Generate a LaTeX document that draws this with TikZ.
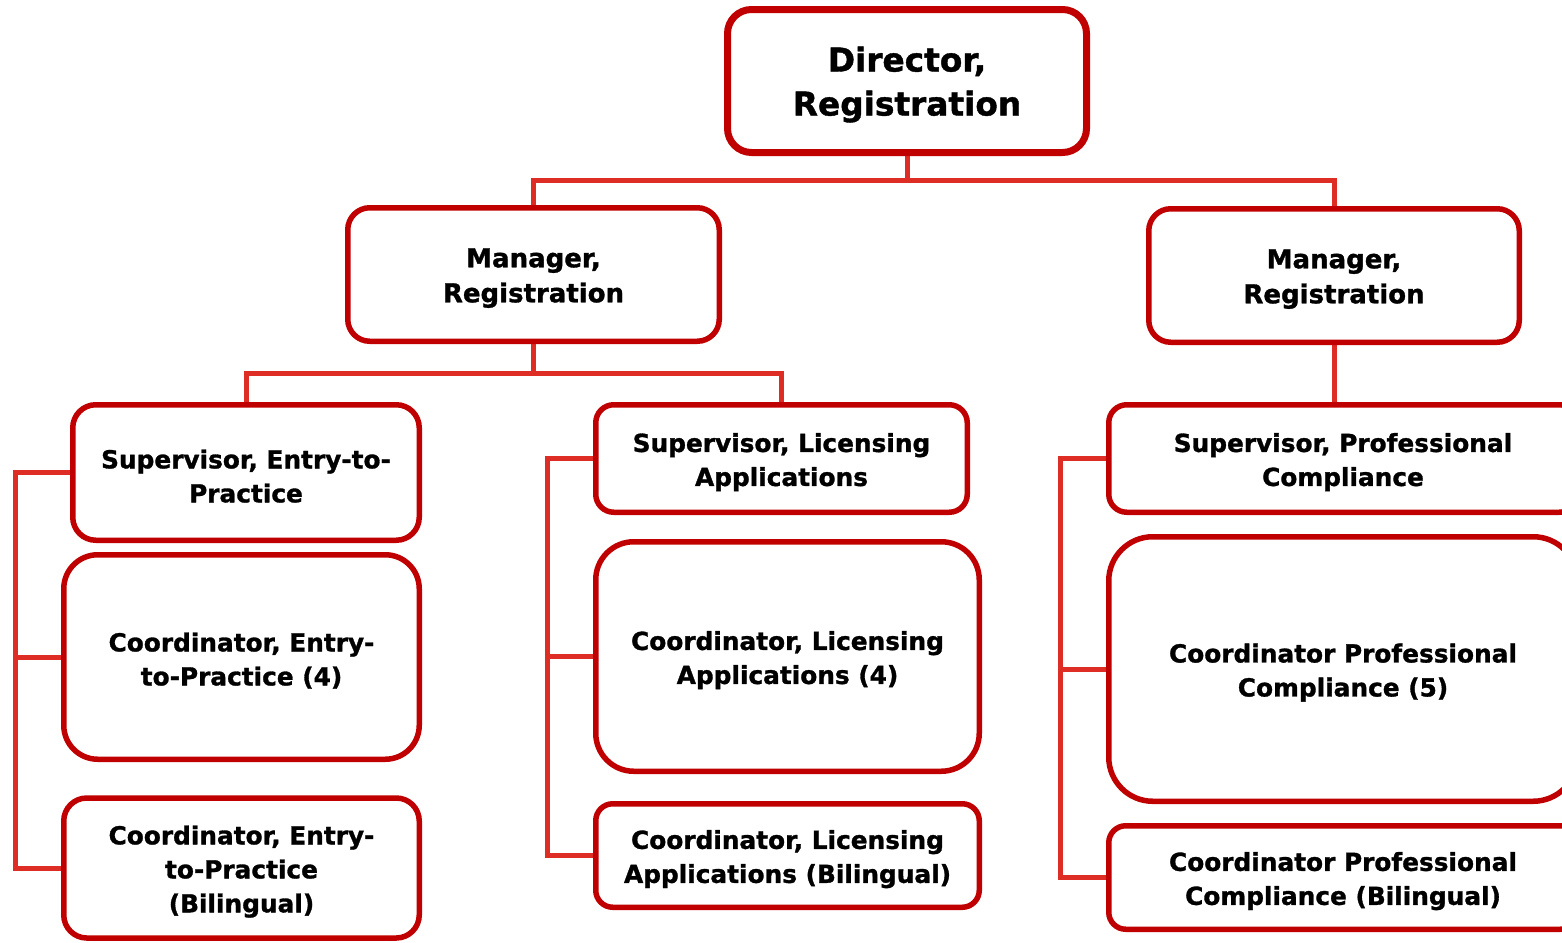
\documentclass[tikz,border=0pt]{standalone}
\usepackage{fontspec}
\setmainfont{DejaVu Sans}[BoldFeatures={FakeBold=1.2}]
\usetikzlibrary{backgrounds}
\definecolor{boxred}{RGB}{192,0,0}
\definecolor{linered}{RGB}{222,45,36}
\tikzset{
  orgbox/.style={draw=boxred, line width=2.75pt, fill=white, inner sep=0pt, rounded corners=#1},
  lbl/.style={align=center, inner sep=0pt, text=black, yshift=-1.8pt},
  big/.style={lbl, font=\fontsize{16.4pt}{22pt}\selectfont\bfseries},
  mid/.style={lbl, font=\fontsize{13pt}{17.5pt}\selectfont\bfseries},
  small/.style={lbl, font=\fontsize{12.4pt}{17pt}\selectfont\bfseries},
  conn/.style={draw=linered, line width=2.5pt},
}
\begin{document}
\begin{tikzpicture}[x=0.5pt,y=-0.5pt]
\path[use as bounding box, clip] (0,0) rectangle (1562,942);
% boxes
\node[orgbox=12pt, line width=3.5pt, minimum width=179.5pt, minimum height=71.5pt] (dir) at (907,81) {};
\node[orgbox=11pt, minimum width=185.75pt, minimum height=66.75pt] (mgrL) at (533.5,274.5) {};
\node[orgbox=11pt, minimum width=185.25pt, minimum height=66.75pt] (mgrR) at (1334,275.5) {};
\node[orgbox=11.5pt, minimum width=173.25pt, minimum height=67.75pt] (supE) at (246,472.5) {};
\node[orgbox=17pt, minimum width=177.75pt, minimum height=102.25pt] (coE) at (241.5,657) {};
\node[orgbox=11.5pt, minimum width=177.75pt, minimum height=70pt] (coEb) at (241.5,868) {};
\node[orgbox=9pt, minimum width=185.75pt, minimum height=53.75pt] (supL) at (781.5,458.5) {};
\node[orgbox=19pt, minimum width=191.75pt, minimum height=114.75pt] (coL) at (787.5,656.5) {};
\node[orgbox=8.5pt, minimum width=191.75pt, minimum height=51.75pt] (coLb) at (787.5,855.5) {};
\node[orgbox=9pt, minimum width=234.25pt, minimum height=53.75pt] (supP) at (1343,458.5) {};
\node[orgbox=22pt, minimum width=234.25pt, minimum height=132.25pt] (coP) at (1343,669) {};
\node[orgbox=8.5pt, minimum width=234.25pt, minimum height=51.75pt] (coPb) at (1343,877.5) {};
% texts
\node[big] (dirT) at (dir.center) {Director,\\Registration};
\node[mid] (mgrLT) at (mgrL.center) {Manager,\\Registration};
\node[mid] (mgrRT) at (mgrR.center) {Manager,\\Registration};
\node[small] (supET) at (supE.center) {Supervisor, Entry-to-\\Practice};
\node[small] (coET) at (coE.center) {Coordinator, Entry-\\to-Practice (4)};
\node[small] (coEbT) at (coEb.center) {Coordinator, Entry-\\to-Practice\\(Bilingual)};
\node[small] (supLT) at (supL.center) {Supervisor, Licensing\\Applications};
\node[small] (coLT) at (coL.center) {Coordinator, Licensing\\Applications (4)};
\node[small] (coLbT) at (coLb.center) {Coordinator, Licensing\\Applications (Bilingual)};
\node[small] (supPT) at (supP.center) {Supervisor, Professional\\Compliance};
\node[small] (coPT) at (coP.center) {Coordinator Professional\\Compliance (5)};
\node[small] (coPbT) at (coPb.center) {Coordinator Professional\\Compliance (Bilingual)};
% connectors
\coordinate (j1) at (907,180);
\coordinate (j2) at (533.5,373);
\coordinate (busL) at (15,0);
\coordinate (busM) at (547,0);
\coordinate (busR) at (1060,0);
\begin{scope}[on background layer]
\fill[white] (0,0) rectangle (1562,942);
\draw[conn] (dir.south) -- (j1) -| (mgrL.north);
\draw[conn] (j1) -| (mgrR.north);
\draw[conn] (mgrL.south) -- (j2) -| (supE.north);
\draw[conn] (j2) -| (supL.north);
\draw[conn] (mgrR.south) -- (mgrR.south |- supP.north);
\draw[conn] (supE.west) -| (busL |- coEb.west) -- (coEb.west);
\draw[conn] (coE.west) -- (coE.west -| busL);
\draw[conn] (supL.west) -| (busM |- coLb.west) -- (coLb.west);
\draw[conn] (coL.west) -- (coL.west -| busM);
\draw[conn] (supP.west) -| (busR |- coPb.west) -- (coPb.west);
\draw[conn] (coP.west) -- (coP.west -| busR);
\end{scope}
\end{tikzpicture}
\end{document}
